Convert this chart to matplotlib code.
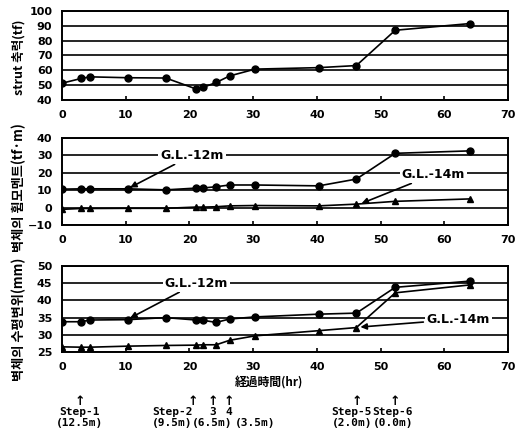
import matplotlib
matplotlib.use("Agg")
import matplotlib.pyplot as plt

plt.rcParams["font.family"] = ["DejaVu Sans", "Noto Sans CJK KR"]
plt.rcParams["font.weight"] = "bold"

# elapsed time (hr) of each reading
times = [0, 3, 4.4, 10.3, 16.3, 21, 22.2, 24.2, 26.3, 30.3, 40.3, 46.2, 52.3, 64]

# strut axial force (tf)
strut = [51.3, 54.5, 55.6, 55, 54.8, 47.5, 48.6, 51.8, 56.2, 60.8, 61.8, 63.2, 87, 91.5]

# wall bending moment (tf.m)
moment_12 = [10.6, 10.8, 10.8, 10.8, 10.2, 11.2, 11.3, 12, 13, 13, 12.5, 16.4, 31.2, 32.6]
moment_14 = [-1, -0.5, -0.5, -0.4, -0.4, 0.3, 0.3, 0.5, 1, 1.2, 1, 2, 3.6, 5]

# wall horizontal displacement (mm)
disp_12 = [33.8, 33.8, 34.3, 34.4, 35, 34.3, 34.2, 33.6, 34.6, 35.2, 36, 36.3, 43.8, 45.6]
disp_14 = [26.5, 26.4, 26.4, 26.7, 26.9, 27, 27.1, 27.1, 28.4, 29.7, 31.2, 32.1, 42.2, 44.5]

# excavation steps: arrow position, name position, depth position
step_x = [2.8, 20.6, 23.6, 26.2, 46.2, 52.2]
step_names = ["Step-1", "Step-2", "3", "4", "Step-5", "Step-6"]
step_name_x = [2.8, 17.3, 23.6, 26.2, 45.5, 51.9]
step_depths = ["(12.5m)", "(9.5m)", "(6.5m)", "(3.5m)", "(2.0m)", "(0.0m)"]
step_depth_x = [2.8, 17.3, 23.6, 30.3, 45.5, 51.9]

kr = ["Noto Sans CJK KR", "DejaVu Sans"]

fig = plt.figure(figsize=(5.18, 4.37), dpi=100)
ax1 = fig.add_axes([0.1197, 0.7712, 0.861, 0.2037])
ax2 = fig.add_axes([0.1197, 0.4851, 0.861, 0.1991])
ax3 = fig.add_axes([0.1197, 0.1945, 0.861, 0.1968])


def style(ax, ylo, yhi, ystep):
    ax.set_xlim(0, 70)
    ax.set_ylim(ylo, yhi)
    ax.set_xticks(range(0, 71, 10))
    ax.set_yticks(range(ylo, yhi + 1, ystep))
    ax.yaxis.grid(True, color="black", lw=1.2)
    ax.set_axisbelow(True)
    for s in ax.spines.values():
        s.set_linewidth(1.4)
    ax.tick_params(axis="x", direction="in", length=3, width=1.2, pad=7,
                   labelsize=8, top=False)
    ax.tick_params(axis="y", length=0, pad=7, labelsize=8)


style(ax1, 40, 100, 10)
style(ax2, -10, 40, 10)
style(ax3, 25, 50, 5)

line_kw = dict(color="black", lw=1.2)
ax1.plot(times, strut, marker="o", ms=5, **line_kw)
ax2.plot(times, moment_12, marker="o", ms=5, **line_kw)
ax2.plot(times, moment_14, marker="^", ms=5, **line_kw)
ax3.plot(times, disp_12, marker="o", ms=5, **line_kw)
ax3.plot(times, disp_14, marker="^", ms=5, **line_kw)

box = dict(boxstyle="square,pad=0.15", fc="white", ec="none")
arrow = dict(arrowstyle="-|>", color="black", lw=1.2, mutation_scale=9,
             shrinkA=1, shrinkB=2)
ax2.annotate("G.L.-12m", xy=(10.3, 10.8), xytext=(20.4, 30), fontsize=9,
             ha="center", va="center", bbox=box, arrowprops=arrow)
ax2.annotate("G.L.-14m", xy=(46.6, 1.8), xytext=(58.3, 19), fontsize=9,
             ha="center", va="center", bbox=box, arrowprops=arrow)
ax3.annotate("G.L.-12m", xy=(10.3, 34.5), xytext=(21.1, 45), fontsize=9,
             ha="center", va="center", bbox=box, arrowprops=arrow)
ax3.annotate("G.L.-14m", xy=(46.4, 32.2), xytext=(62.2, 34.5), fontsize=9,
             ha="center", va="center", bbox=box, arrowprops=arrow)

fig.text(0.037, 0.87, "strut 축력(tf)", rotation=90, ha="center", va="center",
         fontsize=9, family=kr)
fig.text(0.037, 0.57, "벽체의 휨모멘트(tf·m)", rotation=90, ha="center",
         va="center", fontsize=9.5, family=kr)
fig.text(0.037, 0.27, "벽체의 수평변위(mm)", rotation=90, ha="center",
         va="center", fontsize=9.5, family=kr)

xt = ax3.get_xaxis_transform()
ax3.text(32.5, -0.36, "経過時間(hr)", transform=xt, ha="center", va="center",
         fontsize=8.5, family=["Noto Sans CJK JP", "DejaVu Sans"])
for x in step_x:
    ax3.text(x, -0.57, "↑", transform=xt, ha="center", va="center",
             fontsize=9, clip_on=False)
for x, name in zip(step_name_x, step_names):
    ax3.text(x, -0.7, name, transform=xt, ha="center", va="center",
             fontsize=8, family="DejaVu Sans Mono")
for x, d in zip(step_depth_x, step_depths):
    ax3.text(x, -0.82, d, transform=xt, ha="center", va="center",
             fontsize=8, family="DejaVu Sans Mono")

fig.savefig("out.png", dpi=100)
